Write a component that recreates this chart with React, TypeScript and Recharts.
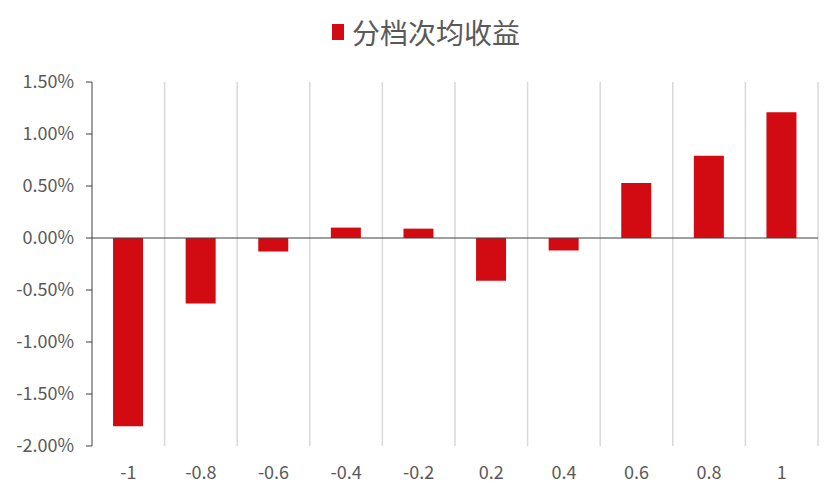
import React from "react";
import { BarChart, Bar, XAxis, YAxis, CartesianGrid, ReferenceLine } from "recharts";

const categories = ["-1", "-0.8", "-0.6", "-0.4", "-0.2", "0.2", "0.4", "0.6", "0.8", "1"];
const returns = [-0.0181, -0.0063, -0.0013, 0.001, 0.0009, -0.0041, -0.0012, 0.0053, 0.0079, 0.0121];
const yTicks = [-0.02, -0.015, -0.01, -0.005, 0, 0.005, 0.01, 0.015];
const seriesName = "分档次均收益";

const data = categories.map((c, i) => ({ name: c, value: returns[i] }));

const RED = "#D20A11";
const TEXT = "#595959";
const FONT = "'Noto Sans CJK SC', 'Noto Sans', sans-serif";

export default function App() {
  return (
    <div style={{ position: "relative", width: 823, height: 484, fontFamily: FONT }}>
      <div
        style={{
          position: "absolute",
          top: 4,
          left: 0,
          width: 836,
          height: 40,
          display: "flex",
          justifyContent: "center",
          alignItems: "center",
          color: TEXT,
          fontSize: 28,
        }}
      >
        <span style={{ display: "inline-block", width: 12, height: 16, background: RED, marginRight: 8 }} />
        <span>{seriesName}</span>
      </div>
      <BarChart
        width={823}
        height={484}
        data={data}
        margin={{ top: 74, right: 13, left: 0, bottom: 6 }}
        barCategoryGap="29%"
      >
        <CartesianGrid
          horizontal={false}
          stroke="#D9D9D9"
          strokeWidth={1.5}
          verticalCoordinatesGenerator={({ offset }: any) =>
            categories.map((_, i) => offset.left + (offset.width * (i + 1)) / categories.length)
          }
        />
        <XAxis
          dataKey="name"
          axisLine={false}
          tickLine={false}
          height={40}
          tickMargin={14}
          tick={{ fill: TEXT, fontSize: 18, fontFamily: FONT }}
        />
        <YAxis
          width={84}
          domain={[-0.02, 0.015]}
          ticks={yTicks}
          tickFormatter={(v: number) => (v * 100).toFixed(2) + "%"}
          axisLine={{ stroke: "#404040" }}
          tickLine={{ stroke: "#404040" }}
          tickSize={6}
          tickMargin={12}
          tick={{ fill: TEXT, fontSize: 18, fontFamily: FONT }}
        />
        <ReferenceLine y={0} stroke="#404040" strokeWidth={1.2} />
        <Bar dataKey="value" fill={RED} isAnimationActive={false} />
      </BarChart>
    </div>
  );
}
